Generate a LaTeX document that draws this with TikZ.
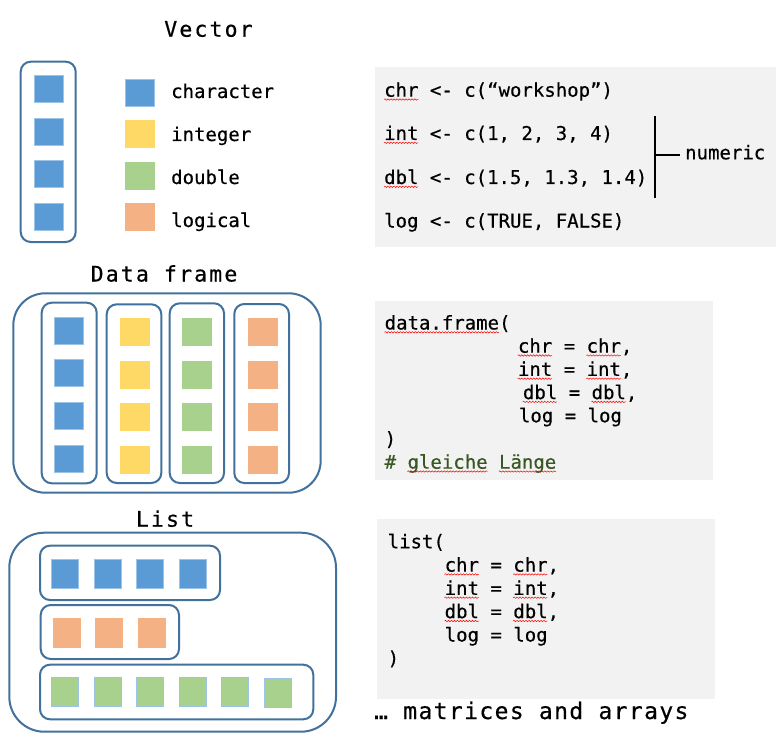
\documentclass[tikz,border=0pt]{standalone}
\usepackage{fontspec}
\usetikzlibrary{calc,decorations.pathmorphing}
\newfontfamily\codefont[FakeBold=0.4]{DejaVu Sans Mono}
\newfontfamily\titlefont[LetterSpace=10,FakeBold=0.5]{DejaVu Sans Mono}
\newfontfamily\morefont[LetterSpace=6,FakeBold=0.5]{DejaVu Sans Mono}
\definecolor{boxline}{HTML}{41719C}
\definecolor{sqblue}{HTML}{5B9BD5}
\definecolor{sqedge}{HTML}{9DC3E6}
\definecolor{sqyellow}{HTML}{FFD966}
\definecolor{sqgreen}{HTML}{A9D18E}
\definecolor{sqorange}{HTML}{F4B183}
\definecolor{codegray}{HTML}{F2F2F2}
\definecolor{comment}{HTML}{385723}
\tikzset{
  frame/.style={draw=boxline, line width=2pt, rounded corners=#1},
  bluesq/.style={fill=sqblue, draw=sqedge, line width=0.8pt},
  yellowsq/.style={fill=sqyellow},
  greensq/.style={fill=sqgreen},
  greenedgesq/.style={fill=sqgreen, draw=sqedge, line width=0.8pt},
  orangesq/.style={fill=sqorange},
  codebg/.style={fill=codegray},
  code/.style={anchor=base west, inner sep=0pt, font=\codefont\fontsize{19}{23}\selectfont},
  titletext/.style={anchor=base, inner sep=0pt, font=\titlefont\fontsize{21.5}{26}\selectfont},
  moretext/.style={anchor=base west, inner sep=0pt, font=\morefont\fontsize{23}{27}\selectfont},
  squiggle/.style={draw=red, line width=0.5pt, decorate, decoration={snake, amplitude=0.7pt, segment length=3pt}},
  bracket/.style={draw=black, line width=2pt},
}
\newcommand\squig[3]{\draw[squiggle] ($(#1.base west)+(#2*11.44,2.8)$) -- ++(#3*11.44,0);}
\begin{document}
\begin{tikzpicture}[x=1pt,y=-1pt]
\useasboundingbox (0,0) rectangle (776,738);
\fill[white] (0,0) rectangle (776,738);

% ---------------- Vector ----------------
\node[titletext] (tvec) at (208.5,36.7) {Vector};
\draw[frame=10pt] (20.7,61.7) rectangle (75.7,242);
\draw[bluesq] (34.3,75.3) rectangle (63.3,102.3);
\draw[bluesq] (34.3,118.3) rectangle (63.3,145.3);
\draw[bluesq] (34.3,160.7) rectangle (63.3,187.3);
\draw[bluesq] (34.3,203.3) rectangle (63.3,230);

\draw[bluesq] (125,79.3) rectangle (154.7,106.7);
\fill[yellowsq] (125,120) rectangle (154.7,147.7);
\fill[greensq] (125,162.3) rectangle (154.7,189.7);
\fill[orangesq] (125,203) rectangle (154.7,230.7);
\node[code] (lchr) at (171,98) {character};
\node[code] (lint) at (171,141) {integer};
\node[code] (ldbl) at (171,184) {double};
\node[code] (llog) at (171,227) {logical};

\fill[codebg] (375,66.7) rectangle (776,246.7);
\node[code] (v1) at (384,96.7) {chr <- c(“workshop”)};
\node[code] (v2) at (384,140) {int <- c(1, 2, 3, 4)};
\node[code] (v3) at (384,184) {dbl <- c(1.5, 1.3, 1.4)};
\node[code] (v4) at (384,227.5) {log <- c(TRUE, FALSE)};
\squig{v1}{0}{3}
\squig{v2}{0}{3}
\squig{v3}{0}{3}

\coordinate (nt) at (655,116);
\coordinate (nb) at (655,198.3);
\coordinate (nm) at (655,155);
\node[code] (num) at (685,159.3) {numeric};
\draw[bracket] (nt) -- (nb);
\draw[bracket] (nm) -- ($(nm -| num.west)+(-5,0)$);

% ---------------- Data frame ----------------
\node[titletext] (tdf) at (164,281.5) {Data frame};
\draw[frame=32pt] (13.3,293.3) rectangle (320.7,492.7);
\draw[frame=10pt] (41.7,302.7) rectangle (96.7,483.3);
\draw[frame=10pt] (106.7,304.3) rectangle (161.3,483);
\draw[frame=10pt] (169.7,303.3) rectangle (224,483);
\draw[frame=10pt] (234.3,304) rectangle (289,483);
\foreach \ya/\yb in {317.3/344.3,359.3/386.3,402.3/429.3,445.3/472.3}
  \draw[bluesq] (54.3,\ya) rectangle (83.7,\yb);
\foreach \ya/\yb in {318/345.7,361/389,403/430.7,446/473.7} {
  \fill[yellowsq] (120,\ya) rectangle (150,\yb);
  \fill[greensq] (182,\ya) rectangle (212,\yb);
  \fill[orangesq] (247.7,\ya) rectangle (278,\yb);
}

\fill[codebg] (375,301) rectangle (713.3,480);
\node[code] (d1) at (384.5,329.5) {data.frame(};
\node[code] (d2) at (517.8,352.7) {chr = chr,};
\node[code] (d3) at (517.8,375.9) {int = int,};
\node[code] (d4) at (522.8,399.1) {dbl = dbl,};
\node[code] (d5) at (518.8,422.3) {log = log};
\node[code] (d6) at (384.5,445.5) {)};
\node[code, text=comment] (d7) at (384.5,468.7) {\# gleiche Länge};
\squig{d1}{0}{10}
\squig{d2}{0}{3}\squig{d2}{6}{3}
\squig{d3}{0}{3}\squig{d3}{6}{3}
\squig{d4}{0}{3}\squig{d4}{6}{3}
\squig{d7}{2}{7}\squig{d7}{10}{5}

% ---------------- List ----------------
\node[titletext] (tlist) at (165,526.7) {List};
\draw[frame=35pt] (9.3,532.7) rectangle (336,731.7);
\draw[frame=10pt] (40,545.7) rectangle (220,600);
\draw[frame=10pt] (40.7,605) rectangle (179,659);
\draw[frame=10pt] (40,664.7) rectangle (313.3,719.3);
\foreach \xa/\xb in {51/78.7,94.3/121.7,136/163.3,179.3/206.7}
  \draw[bluesq] (\xa,559.3) rectangle (\xb,588.3);
\foreach \xa/\xb in {53/81,95/123,138/166}
  \fill[orangesq] (\xa,617.7) rectangle (\xb,647.7);
\foreach \xa/\xb in {51/78.7,94.3/121.7,136/163.7,179.3/206.7,221/248.7}
  \draw[greenedgesq] (\xa,677) rectangle (\xb,706.7);
\draw[greenedgesq] (264.3,678.3) rectangle (291.7,707.7);

\fill[codebg] (377.3,519) rectangle (715,699);
\node[code] (l1) at (387.5,548.3) {list(};
\node[code] (l2) at (444.5,571.6) {chr = chr,};
\node[code] (l3) at (444.5,594.9) {int = int,};
\node[code] (l4) at (444.5,618.2) {dbl = dbl,};
\node[code] (l5) at (444.5,641.5) {log = log};
\node[code] (l6) at (387.5,664.8) {)};
\squig{l2}{0}{3}\squig{l2}{6}{3}
\squig{l3}{0}{3}\squig{l3}{6}{3}
\squig{l4}{0}{3}\squig{l4}{6}{3}

\node[moretext] (more) at (374,719) {… matrices and arrays};
\end{tikzpicture}
\end{document}
